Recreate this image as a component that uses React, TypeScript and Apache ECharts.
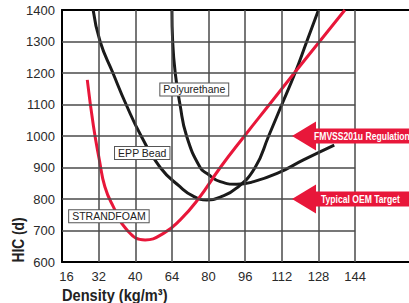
import React, { useEffect, useRef } from "react";
import * as echarts from "echarts";

const xLabels = ["16", "32", "40", "64", "80", "96", "112", "128", "144"];
const yMin = 600;
const yMax = 1400;
const yStep = 100;
const gridYValues = [700, 800, 900, 1000, 1100, 1200, 1300];
const gridXValues = [1, 2, 3, 4, 5, 6, 7, 8];

// [x position on the density axis (index of tick), HIC]
const strandfoam = [
  [0.69, 1178], [0.86, 1030], [1.02, 924], [1.17, 839], [1.4, 776], [1.77, 702],
  [2.27, 670], [2.77, 691], [3.22, 733], [3.72, 800], [4.32, 900], [4.98, 1000],
  [5.66, 1100], [6.34, 1200], [7.03, 1300], [7.72, 1400],
];
const eppBead = [
  [0.85, 1400], [1.04, 1300], [1.39, 1200], [1.75, 1100], [2.16, 1000], [2.68, 900],
  [3.22, 839], [3.58, 809], [3.95, 797], [4.32, 806], [4.77, 835], [5.27, 900],
  [5.64, 1000], [6.0, 1100], [6.36, 1200], [6.68, 1300], [7.0, 1400],
];
const polyurethane = [
  [3.0, 1400], [3.02, 1300], [3.09, 1200], [3.22, 1100], [3.4, 1000], [3.77, 900],
  [3.97, 880], [4.32, 855], [4.77, 847], [5.23, 855], [5.87, 881], [6.59, 924], [7.43, 971],
];
const curveLabels = [
  { name: "Polyurethane", coord: [3.61, 1148] },
  { name: "EPP Bead", coord: [2.19, 946] },
  { name: "STRANDFOAM", coord: [1.28, 745] },
];
const arrowNotes = [
  { text: "FMVSS201u Regulation", value: 1000, textX: 314 },
  { text: "Typical OEM Target", value: 800, textX: 321 },
];

const FONT = "'Liberation Sans', Arial, sans-serif";
const RED = "#E8173A";
const BLACK = "#1a1a1a";
const GRID = "#4a4a4a";

export default function App() {
  const ref = useRef<HTMLDivElement>(null);
  useEffect(() => {
    if (!ref.current) return;
    const chart = echarts.init(ref.current, undefined, { renderer: "svg" });
    const gridLeft = 62;
    const gridTop = 10;
    const gridBottom = 41;
    const plotH = 303 - gridTop - gridBottom;
    const yToPx = (v: number) => gridTop + ((yMax - v) / (yMax - yMin)) * plotH;

    const arrowGraphics: any[] = [];
    arrowNotes.forEach((a) => {
      const cy = yToPx(a.value);
      arrowGraphics.push({
        type: "polygon",
        z: 100,
        shape: {
          points: [
            [292, cy], [316, cy - 14.5], [316, cy - 7.5], [409, cy - 7.5],
            [409, cy + 7.5], [316, cy + 7.5], [316, cy + 14.5],
          ],
        },
        style: { fill: RED },
      });
      arrowGraphics.push({
        type: "text",
        z: 101,
        x: a.textX,
        y: cy + 0.5,
        scaleX: 0.78,
        style: {
          text: a.text,
          fill: "#fff",
          font: `bold 11px ${FONT}`,
          textAlign: "left",
          textVerticalAlign: "middle",
        },
      });
    });

    const line = (name: string, data: number[][], color: string, z: number) => ({
      name,
      type: "line",
      data,
      smooth: 0.5,
      symbol: "none",
      z,
      lineStyle: { color, width: 3 },
    });

    chart.setOption({
      animation: false,
      grid: { left: gridLeft, right: 0, top: gridTop, bottom: gridBottom },
      xAxis: [
        {
          type: "value",
          min: 0,
          max: 9.47,
          interval: 1,
          axisLine: { show: true, lineStyle: { color: "#000", width: 2 } },
          axisTick: { show: false },
          splitLine: { show: false },
          axisLabel: {
            margin: 8,
            color: "#2a2a2a",
            fontFamily: FONT,
            fontSize: 13,
            showMaxLabel: false,
            rich: { first: { fontFamily: FONT, fontSize: 13, color: "#2a2a2a", padding: [0, 0, 0, 9] } },
            formatter: (v: number) => {
              if (!Number.isInteger(v) || v >= xLabels.length) return "";
              return v === 0 ? `{first|${xLabels[v]}}` : xLabels[v];
            },
          },
        },
        {
          type: "value",
          position: "top",
          min: 0,
          max: 9.47,
          axisLine: { show: true, onZero: false, lineStyle: { color: "#000", width: 2 } },
          axisTick: { show: false },
          axisLabel: { show: false },
          splitLine: { show: false },
        },
      ],
      yAxis: {
        type: "value",
        min: yMin,
        max: yMax,
        interval: yStep,
        axisLine: { show: true, lineStyle: { color: "#000", width: 2 } },
        axisTick: { show: false },
        splitLine: { show: false },
        axisLabel: {
          margin: 7,
          color: "#2a2a2a",
          fontFamily: FONT,
          fontSize: 13,
          formatter: (v: number) => String(v),
        },
      },
      graphic: [
        {
          type: "text",
          x: 18,
          y: 240,
          rotation: Math.PI / 2,
          scaleX: 0.81,
          style: {
            text: "HIC (d)",
            fill: "#222",
            font: `bold 17px ${FONT}`,
            textAlign: "center",
            textVerticalAlign: "middle",
          },
        },
        {
          type: "text",
          x: 62,
          y: 295,
          scaleX: 0.86,
          style: {
            text: "Density (kg/m³)",
            fill: "#222",
            font: `bold 17px ${FONT}`,
            textAlign: "left",
            textVerticalAlign: "middle",
          },
        },
        ...arrowGraphics,
      ],
      series: [
        {
          type: "line",
          data: [],
          z: 1,
          markLine: {
            silent: true,
            symbol: ["none", "none"],
            label: { show: false },
            lineStyle: { color: GRID, width: 1.5, type: "solid" },
            data: [
              ...gridXValues.map((x) => ({ xAxis: x })),
              ...gridYValues.map((y) => [{ coord: [0, y] }, { coord: [8, y] }]),
            ],
          },
          markPoint: {
            silent: true,
            symbol: "rect",
            symbolSize: 0,
            data: curveLabels.map((l) => ({
              name: l.name,
              coord: l.coord,
              label: {
                show: true,
                position: "inside",
                formatter: l.name,
                color: "#222",
                fontFamily: FONT,
                fontSize: 10.5,
                backgroundColor: "#fff",
                borderColor: "#555",
                borderWidth: 1,
                padding: [1, 3, 0, 3],
              },
            })),
          },
        },
        line("EPP Bead", eppBead, BLACK, 3),
        line("Polyurethane", polyurethane, BLACK, 3),
        line("STRANDFOAM", strandfoam, RED, 4),
      ],
    });
    return () => chart.dispose();
  }, []);
  return (
    <div
      ref={ref}
      style={{ position: "absolute", left: 0, top: 0, width: 409, height: 303, background: "#fff" }}
    />
  );
}
